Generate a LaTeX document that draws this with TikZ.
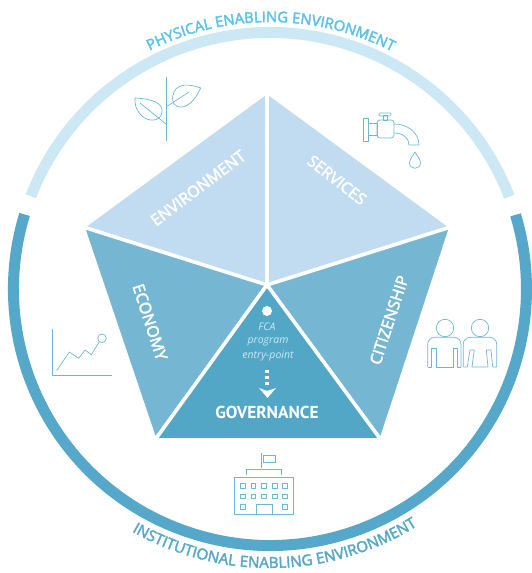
\documentclass[tikz,border=0pt]{standalone}
\usepackage{fontspec}
\setmainfont{Open Sans}
\newfontfamily\ptsans{PT Sans}
\newfontfamily\ringfont[FakeBold=2.5]{Open Sans}
\usetikzlibrary{decorations.text}
\definecolor{ringlight}{HTML}{CDE8F5}
\definecolor{ringdark}{HTML}{55A8C9}
\definecolor{wedgetop}{HTML}{C1DCF1}
\definecolor{wedgeside}{HTML}{75B7D3}
\definecolor{wedgegov}{HTML}{52A7C7}
\definecolor{toptext}{HTML}{5BC2E7}
\definecolor{icon}{HTML}{6BB8D4}
\definecolor{fcatext}{HTML}{CFE8F2}
\tikzset{
  wedge/.style={draw=white,line width=3.5pt,line join=miter},
  iconline/.style={draw=icon,line width=0.7pt,line join=round},
  wedgelabel/.style={text=white,font=\ringfont\fontsize{16}{16}\selectfont,inner sep=0pt},
  fcalabel/.style={text=fcatext,font=\fontsize{10.5}{10.5}\selectfont\itshape,inner sep=0pt}
}
% px: image coordinates, y measured from the top
\def\P(#1,#2){({#1},{573-(#2)})}
\begin{document}
\begin{tikzpicture}[x=1pt,y=1pt]
\useasboundingbox (0,0) rectangle (531,573);
\coordinate (C) at (270,284);
% rings
\draw[ringlight,line width=11pt] ([shift={(C)}]158.8:256.5) arc[start angle=158.8,end angle=21.1,radius=256.5];
\draw[ringdark,line width=11pt] ([shift={(C)}]163.1:256.5) arc[start angle=163.1,end angle=376.8,radius=256.5];
% ring titles
\path[postaction={decorate},decoration={text along path,text align=center,
  text={|\ringfont\fontsize{14.8}{15}\selectfont\color{toptext}|PHYSICAL ENABLING ENVIRONMENT}}]
  ([shift={(C)}]124.8:267) arc[start angle=124.8,end angle=54.8,radius=267];
\path[postaction={decorate},decoration={text along path,text align=center,
  text={|\ringfont\fontsize{15.2}{15}\selectfont\color{ringdark}|INSTITUTIONAL ENABLING ENVIRONMENT}}]
  ([shift={(C)}]236.1:279) arc[start angle=236.1,end angle=306.1,radius=279];
% pentagon
\coordinate (top) at (267,481);
\coordinate (vl) at (83,346);
\coordinate (vr) at (451,346);
\coordinate (bl) at (155,133);
\coordinate (br) at (381,133);
\coordinate (ctr) at (267,288);
\fill[wedgetop,wedge] (top)--(vl)--(ctr)--cycle;
\fill[wedgetop,wedge] (top)--(vr)--(ctr)--cycle;
\fill[wedgeside,wedge] (vl)--(ctr)--(bl)--cycle;
\fill[wedgeside,wedge] (vr)--(ctr)--(br)--cycle;
\fill[wedgegov,wedge] (ctr)--(bl)--(br)--cycle;
% wedge labels
\node[wedgelabel,rotate=37] (env) at \P(198,188) {ENVIRONMENT};
\node[wedgelabel,rotate=-38] (srv) at \P(337,180) {SERVICES};
\node[wedgelabel,rotate=-72] (eco) at \P(150,322) {ECONOMY};
\node[wedgelabel,rotate=72] (cit) at \P(389,320) {CITIZENSHIP};
% governance contents
\fill[white] \P(267,311) circle (5);
\node[fcalabel] (f1) at \P(267,327) {FCA};
\node[fcalabel] (f2) at \P(268,342) {program};
\node[fcalabel] (f3) at \P(268,356) {entry-point};
\draw[white,line width=3.5pt,dash pattern=on 3.5pt off 2.5pt] \P(267,370) -- \P(267,388);
\fill[white] \P(259,388) -- \P(267,391) -- \P(276,388) -- \P(267.5,398) -- cycle;
\node[text=white,font=\ptsans\bfseries\fontsize{17.3}{17}\selectfont,inner sep=0pt] (gov) at \P(267,412.5) {GOVERNANCE};
% leaf icon
\draw[iconline] \P(166,77) -- \P(166,140.7);
\draw[iconline] \P(135,98) .. controls \P(153,99) and \P(163,103) .. \P(162,112) .. controls \P(161,122) and \P(148,122) .. \P(142,116) .. controls \P(135,109) and \P(135,104) .. \P(135,98) -- cycle;
\draw[iconline] \P(140,103) -- \P(166,124);
\draw[iconline] \P(200.7,88) .. controls \P(190,84) and \P(178,83) .. \P(174,92) .. controls \P(170,102) and \P(175,108) .. \P(182,107) .. controls \P(190,106) and \P(196,98) .. \P(200.7,88) -- cycle;
\draw[iconline] \P(166,107) -- \P(189,92);
% faucet icon
\draw[iconline] \P(363,118) rectangle \P(368,141);
\draw[iconline] \P(368,123) rectangle \P(377,135);
\draw[iconline,rounded corners=3pt] \P(377,120) rectangle \P(394,138);
\draw[iconline] \P(383,115) rectangle \P(387,120);
\draw[iconline,rounded corners=1pt] \P(379,113) rectangle \P(391,116);
\draw[iconline] \P(394,124) .. controls \P(408,124) and \P(419,133) .. \P(419,145) -- \P(409,145) .. controls \P(409,138) and \P(403,133) .. \P(394,133);
\draw[iconline] \P(415,152) .. controls \P(412,157) and \P(409.5,160) .. \P(409.5,163) .. controls \P(409.5,170) and \P(420.5,170) .. \P(420.5,163) .. controls \P(420.5,160) and \P(418,157) .. \P(415,152) -- cycle;
% people icon
\draw[iconline] \P(445,328) circle (8.7);
\draw[iconline] \P(480,328) circle (8.7);
\draw[iconline,rounded corners=7pt] \P(427.7,367) -- \P(427.7,337.3) -- \P(461,337.3) -- \P(461,367);
\draw[iconline] \P(427.7,367) -- \P(431.7,367) -- \P(431.7,348.3) -- \P(436,348.3) -- \P(436,367) -- \P(453.3,367) -- \P(453.3,348.3) -- \P(457.3,348.3) -- \P(457.3,367) -- \P(461,367);
\draw[iconline,rounded corners=7pt] \P(463.3,367) -- \P(463.3,337.3) -- \P(496.7,337.3) -- \P(496.7,367);
\draw[iconline] \P(463.3,367) -- \P(467.3,367) -- \P(470,350) -- \P(474.3,350) -- \P(472,367) -- \P(488,367) -- \P(486.3,350) -- \P(491,350) -- \P(492.7,367) -- \P(496.7,367);
% chart icon
\draw[iconline] \P(52.3,329) -- \P(52.3,375.3) -- \P(112.3,375.3);
\draw[iconline] \P(56.7,370.7) -- \P(69.3,352) -- \P(78.7,358.3) -- \P(85,350) -- \P(91.3,354.7) -- \P(99,342.3);
\draw[iconline] \P(102,338.3) circle (4.3);
% building icon
\draw[iconline] \P(234.7,477) rectangle \P(293,514.3);
\draw[iconline] \P(246.3,475) -- \P(246.3,469.3) -- \P(281.3,469.3) -- \P(281.3,475);
\draw[iconline] \P(261.3,453.3) -- \P(261.3,468);
\draw[iconline] \P(263.3,455) rectangle \P(275,462.7);
\foreach \wx in {242.7,253.3,264,274.7,285}{
  \foreach \wy in {485.7,496.3}{
    \draw[iconline] \P(\wx-2.3,\wy-2.3) rectangle \P(\wx+2.3,\wy+2.3);
  }
}
\foreach \wx in {242.7,285}{
  \draw[iconline] \P(\wx-2.3,504.7) rectangle \P(\wx+2.3,509.3);
}
\draw[iconline] \P(256,514.3) -- \P(256,504.3) -- \P(272.7,504.3) -- \P(272.7,514.3);
\end{tikzpicture}
\end{document}
